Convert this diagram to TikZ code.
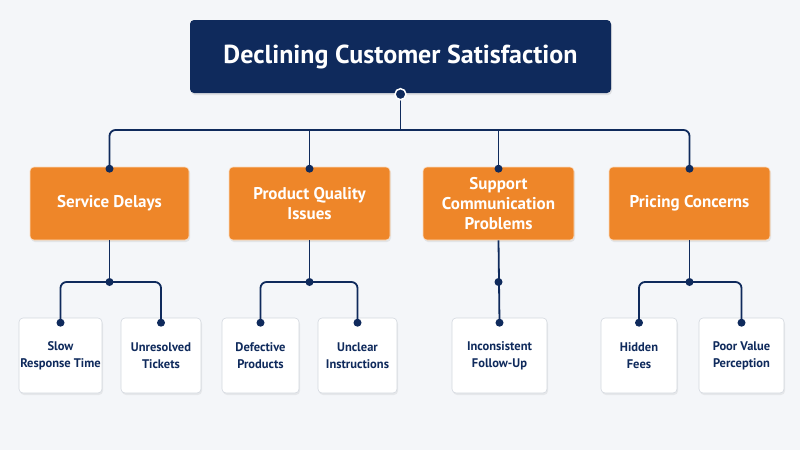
\documentclass[tikz,border=0pt]{standalone}
\usepackage{fontspec}
\setmainfont{PT Sans}
\usetikzlibrary{shadows}
\definecolor{navy}{HTML}{0F2A5C}
\definecolor{orng}{HTML}{EE8629}
\definecolor{bg}{HTML}{F4F6F9}
\definecolor{leafborder}{HTML}{D3D8DF}
\begin{document}
\begin{tikzpicture}[x=1pt,y=-1pt,
  rootbox/.style={fill=navy, rounded corners=4pt, minimum width=421pt, minimum height=73pt,
    inner sep=0pt, text=white, font=\bfseries\fontsize{26}{30}\selectfont,
    drop shadow={opacity=0.18, shadow xshift=1pt, shadow yshift=-2pt}},
  catbox/.style={fill=orng, draw=white!70!orng, line width=0.6pt, rounded corners=4pt, minimum height=73pt,
    inner sep=0pt, text=white, align=center, font=\bfseries\fontsize{17}{20}\selectfont,
    drop shadow={opacity=0.15, shadow xshift=1pt, shadow yshift=-2pt}},
  leafbox/.style={fill=white, draw=leafborder, line width=0.6pt, rounded corners=4pt, minimum height=75pt,
    inner sep=0pt, text=navy, align=center, font=\bfseries\fontsize{12.5}{17}\selectfont,
    drop shadow={opacity=0.12, shadow xshift=1pt, shadow yshift=-2pt}},
  conn/.style={draw=navy, line width=1.8pt, rounded corners=6pt},
  dotmark/.style={circle, fill=navy, inner sep=0pt, minimum size=8pt},
  rootdot/.style={circle, fill=navy, draw=white, line width=1.5pt, inner sep=0pt, minimum size=11pt}
]
\fill[bg] (0,0) rectangle (800,450);
\useasboundingbox (0,0) rectangle (800,450);

% root
\node[rootbox] (root) at (400.5,56.5) {Declining Customer Satisfaction};

% categories
\node[catbox, minimum width=159pt] (c1) at (109.5,203.5) {Service Delays};
\node[catbox, minimum width=161pt] (c2) at (309.5,203.5) {Product Quality\\Issues};
\node[catbox, minimum width=151pt] (c3) at (498.5,203.5) {Support\\Communication\\Problems};
\node[catbox, minimum width=161pt] (c4) at (689.5,203.5) {Pricing Concerns};

% leaves
\node[leafbox, minimum width=83pt] (l1) at (60.5,355.5) {Slow\\Response Time};
\node[leafbox, minimum width=80pt] (l2) at (161,355.5) {Unresolved\\Tickets};
\node[leafbox, minimum width=77pt] (l3) at (260.5,355.5) {Defective\\Products};
\node[leafbox, minimum width=79pt] (l4) at (357.5,355.5) {Unclear\\Instructions};
\node[leafbox, minimum width=95pt] (l5) at (499.5,355.5) {Inconsistent\\Follow-Up};
\node[leafbox, minimum width=76pt] (l6) at (639,355.5) {Hidden\\Fees};
\node[leafbox, minimum width=85pt] (l7) at (741.5,355.5) {Poor Value\\Perception};

% junction coordinates
\coordinate (bus) at (400.5,130);
\coordinate (j1) at (c1.south |- 0,282);
\coordinate (j2) at (c2.south |- 0,282);
\coordinate (j3) at (c3.south |- 0,282);
\coordinate (j4) at (c4.south |- 0,282);
\coordinate (t1) at ([yshift=-5pt]l1.north);
\coordinate (t2) at ([yshift=-5pt]l2.north);
\coordinate (t3) at ([yshift=-5pt]l3.north);
\coordinate (t4) at ([yshift=-5pt]l4.north);
\coordinate (t5) at ([yshift=-5pt]l5.north);
\coordinate (t6) at ([yshift=-5pt]l6.north);
\coordinate (t7) at ([yshift=-5pt]l7.north);
\coordinate (d1) at ([yshift=-2pt]c1.north);
\coordinate (d2) at ([yshift=-2pt]c2.north);
\coordinate (d3) at ([yshift=-2pt]c3.north);
\coordinate (d4) at ([yshift=-2pt]c4.north);

% connectors root -> categories
\draw[conn] (root.south) -- (bus);
\draw[conn] (d1) |- (bus) -| (d4);
\draw[conn] (d2 |- bus) -- (d2);
\draw[conn] (d3 |- bus) -- (d3);

% connectors categories -> leaves
\draw[conn] (c1.south) -- (j1);
\draw[conn] (t1) |- (j1) -| (t2);
\draw[conn] (c2.south) -- (j2);
\draw[conn] (t3) |- (j2) -| (t4);
\draw[conn] (c3.south) -- (t5);
\draw[conn] (c4.south) -- (j4);
\draw[conn] (t6) |- (j4) -| (t7);

% dots
\foreach \p in {d1,d2,d3,d4,j1,j2,j3,j4,t1,t2,t3,t4,t5,t6,t7}
  \node[dotmark] at (\p) {};
\node[rootdot] at ([yshift=-1pt]root.south) {};
\end{tikzpicture}
\end{document}
